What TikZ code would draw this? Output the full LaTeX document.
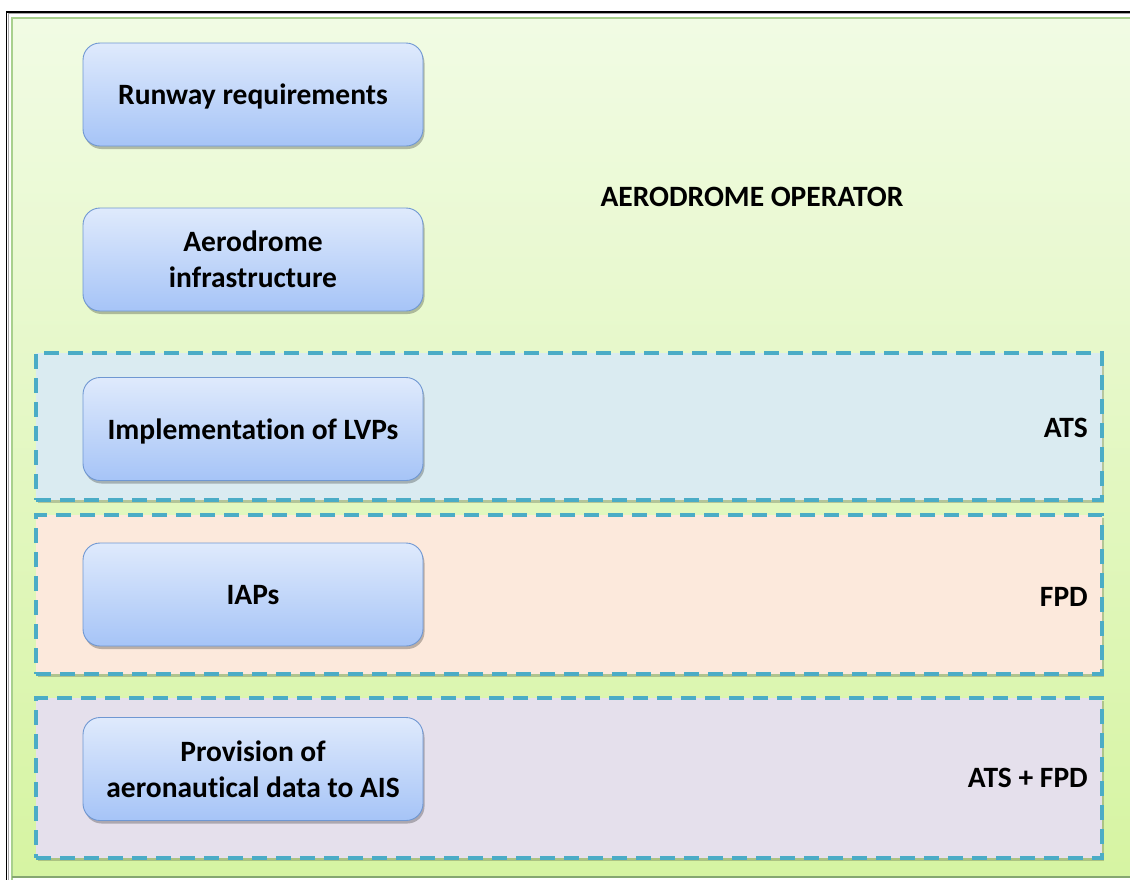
\documentclass[tikz,border=0pt]{standalone}
\usepackage{fontspec}
\setmainfont{Carlito}[Ligatures=NoCommon]
\usetikzlibrary{shadows}
\definecolor{bgtop}{HTML}{F1FBE4}
\definecolor{bgbot}{HTML}{D6F4A2}
\definecolor{bgline}{HTML}{A8D08D}
\definecolor{boxtop}{HTML}{DFEAFC}
\definecolor{boxbot}{HTML}{A6C4F7}
\definecolor{boxline}{HTML}{6F97D2}
\definecolor{dashcol}{HTML}{4BACC6}
\definecolor{atsfill}{HTML}{DAEBF1}
\definecolor{fpdfill}{HTML}{FCE9DC}
\definecolor{bothfill}{HTML}{E5E0EC}
\tikzset{
  bigtext/.style={font=\fontsize{29.5}{36}\selectfont\bfseries},
  taskbox/.style={bigtext, draw=boxline, line width=0.9pt, rounded corners=17pt,
    top color=boxtop, bottom color=boxbot, minimum width=340pt,
    minimum height=103pt, align=center, inner sep=0pt,
    drop shadow={shadow xshift=1.5pt, shadow yshift=-3pt, opacity=0.25, fill=black}},
  oneline/.style={text depth=0pt},
  band/.style={draw=dashcol, line width=3.6pt, dash pattern=on 15pt off 9pt,
    minimum width=1066pt, inner sep=0pt,
    drop shadow={shadow xshift=2pt, shadow yshift=-3pt, opacity=0.2, fill=black}},
  tag/.style={bigtext, anchor=east, inner sep=0pt}
}
\begin{document}
\begin{tikzpicture}[x=1pt, y=-1pt]
\useasboundingbox (0,0) rectangle (1130,879);
% page frame
\fill[white] (0,0) rectangle (1130,879);
\draw[black, line width=1.6pt] (6.5,900) -- (6.5,12) -- (1140,12);
\draw[black!35, line width=0.8pt] (8.3,900) -- (8.3,13.8) -- (1140,13.8);
% operator area
\shade[top color=bgtop, bottom color=bgbot] (12,18) rectangle (1135,877);
\draw[bgline, line width=1.2pt] (12,900) -- (12,18) -- (1140,18);
\draw[bgline!80!black, line width=1.2pt] (12,877) -- (1140,877);
% responsibility bands
\node[band, fill=atsfill, minimum height=147pt] (atsband) at (569,426.5) {};
\node[band, fill=fpdfill, minimum height=159pt] (fpdband) at (569,594.5) {};
\node[band, fill=bothfill, minimum height=160pt] (bothband) at (569,778) {};
% tasks
\node[taskbox, oneline] (runway) at (253,94.5) {Runway requirements};
\node[taskbox] (infra) at (253,259.5) {Aerodrome\\infrastructure};
\node[taskbox, oneline] (lvp) at (253,429) {Implementation of LVPs};
\node[taskbox, oneline] (iap) at (253,594.5) {IAPs};
\node[taskbox] (ais) at (253,769) {Provision of\\aeronautical data to AIS};
% labels
\node[bigtext] (operator) at (752,197) {AERODROME OPERATOR};
\node[tag] (ats) at (1088,428) {ATS};
\node[tag] (fpd) at (1088,597) {FPD};
\node[tag] (both) at (1088,778) {ATS + FPD};
\end{tikzpicture}
\end{document}
